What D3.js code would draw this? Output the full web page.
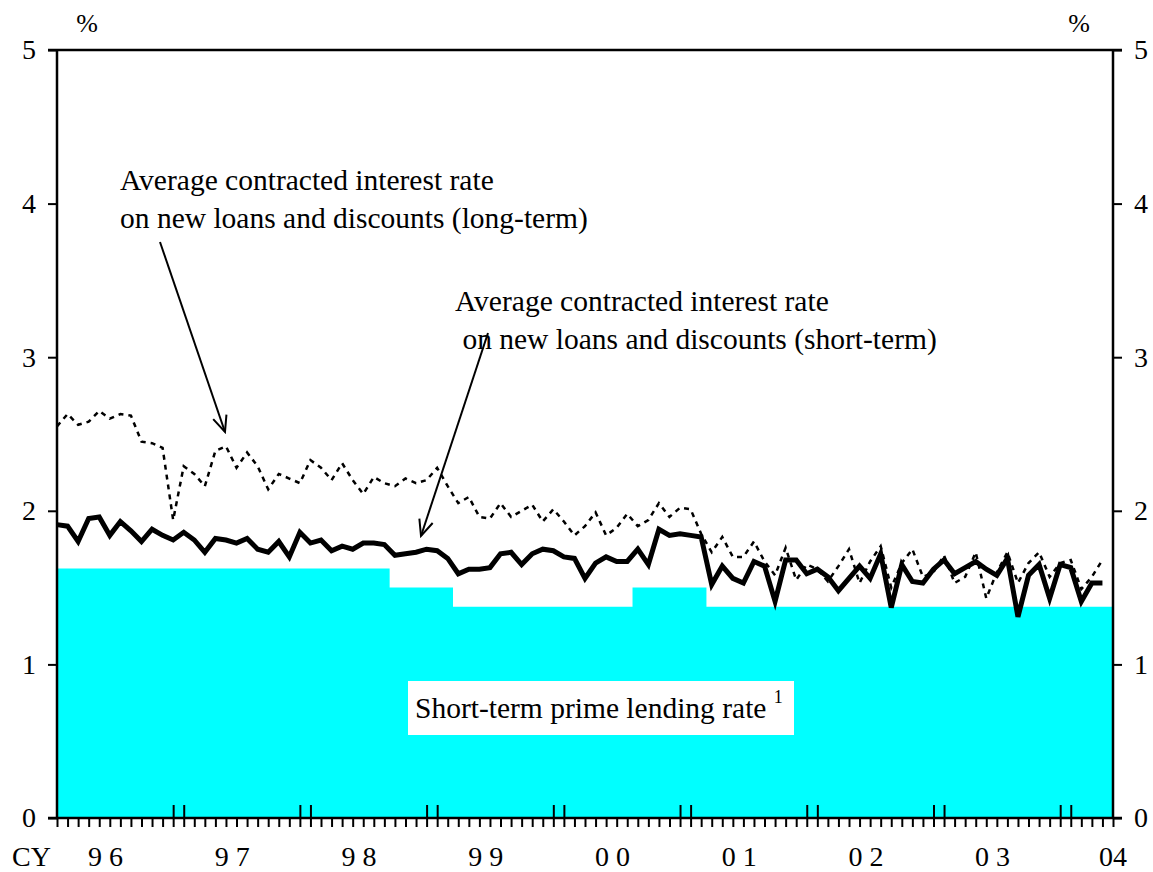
<!DOCTYPE html>
<html>
<head>
<meta charset="utf-8">
<script src="https://cdn.jsdelivr.net/npm/d3@7"></script>
<style>
    body { margin: 0; background: #fff; }
    svg text { font-family: "Liberation Serif", "Times New Roman", serif; fill: #000; }
</style>
</head>
<body>
<svg id="chart" width="1153" height="872"></svg>
<script>
// monthly, Jan 1996 .. Apr 2004 (100 months)
let startYear = 1996;

// average contracted interest rate on new loans, short-term (solid)
let shortTerm = [
    1.91, 1.90, 1.80, 1.95, 1.96, 1.84, 1.93, 1.87, 1.80, 1.88, 1.84, 1.81,
    1.86, 1.81, 1.73, 1.82, 1.81, 1.79, 1.82, 1.75, 1.73, 1.80, 1.70, 1.86,
    1.79, 1.81, 1.74, 1.77, 1.75, 1.79, 1.79, 1.78, 1.71, 1.72, 1.73, 1.75,
    1.74, 1.69, 1.59, 1.62, 1.62, 1.63, 1.72, 1.73, 1.65, 1.72, 1.75, 1.74,
    1.70, 1.69, 1.56, 1.66, 1.70, 1.67, 1.67, 1.75, 1.65, 1.88, 1.84, 1.85,
    1.84, 1.83, 1.52, 1.64, 1.56, 1.53, 1.67, 1.64, 1.41, 1.68, 1.68, 1.59,
    1.62, 1.57, 1.48, 1.56, 1.64, 1.56, 1.72, 1.37, 1.65, 1.54, 1.53, 1.62,
    1.68, 1.59, 1.63, 1.67, 1.62, 1.58, 1.69, 1.31, 1.58, 1.65, 1.43, 1.65,
    1.63, 1.41, 1.53, 1.53
];

// average contracted interest rate on new loans, long-term (dotted)
let longTerm = [
    2.55, 2.63, 2.56, 2.58, 2.65, 2.60, 2.63, 2.62, 2.45, 2.44, 2.41, 1.94,
    2.29, 2.24, 2.16, 2.39, 2.42, 2.28, 2.38, 2.29, 2.14, 2.24, 2.21, 2.18,
    2.33, 2.28, 2.20, 2.31, 2.20, 2.11, 2.22, 2.18, 2.16, 2.21, 2.18, 2.20,
    2.28, 2.16, 2.05, 2.09, 1.96, 1.95, 2.05, 1.96, 2.00, 2.04, 1.93, 2.01,
    1.93, 1.84, 1.90, 1.99, 1.84, 1.89, 1.98, 1.90, 1.94, 2.05, 1.96, 2.02,
    2.01, 1.85, 1.73, 1.83, 1.70, 1.70, 1.80, 1.67, 1.58, 1.76, 1.55, 1.65,
    1.62, 1.54, 1.64, 1.75, 1.53, 1.67, 1.77, 1.50, 1.66, 1.75, 1.57, 1.60,
    1.71, 1.53, 1.57, 1.73, 1.43, 1.60, 1.73, 1.53, 1.66, 1.73, 1.57, 1.66,
    1.68, 1.49, 1.57, 1.68
];

// short-term prime lending rate: month it took effect, and level
let primeFrom = ["1996-01", "1998-09", "1999-03", "2000-08", "2001-03"];
let primeRate = [1.625, 1.5, 1.375, 1.5, 1.375];

let yTicks = [0, 1, 2, 3, 4, 5];
let yearLabels = ["9 6", "9 7", "9 8", "9 9", "0 0", "0 1", "0 2", "0 3"];
let lastLabel = "04";
let nMonths = 100;

let svg = d3.select('#chart'),
    margin = {top: 50, right: 40, bottom: 54, left: 57},
    width = +svg.attr("width") - margin.left - margin.right,
    height = +svg.attr("height") - margin.top - margin.bottom;

let g = svg.append("g").attr("transform", "translate(" + margin.left + "," + margin.top + ")");

let x = d3.scaleLinear().domain([0, nMonths]).range([0, width]);
let y = d3.scaleLinear().domain([0, 5]).range([height, 0]);

function monthIndex(s) {
    let p = s.split("-");
    return (+p[0] - startYear) * 12 + (+p[1] - 1);
}

// prime rate as a step area, steps in the middle between months
let primePts = primeFrom.map((m, i) => ({m: i == 0 ? 0 : monthIndex(m) - 0.5, v: primeRate[i]}));
primePts.push({m: nMonths, v: primeRate[primeRate.length - 1]});

g.append("path")
    .datum(primePts)
    .attr("fill", "#00ffff")
    .attr("d", d3.area()
        .curve(d3.curveStepAfter)
        .x(d => x(d.m))
        .y0(y(0))
        .y1(d => y(d.v)));

// lines
let line = d3.line().x((d, i) => x(i)).y(d => y(d));

g.append("path")
    .datum(longTerm)
    .attr("fill", "none")
    .attr("stroke", "#000")
    .attr("stroke-width", 2.5)
    .attr("stroke-dasharray", "5,5")
    .attr("d", line);

g.append("path")
    .datum(shortTerm)
    .attr("fill", "none")
    .attr("stroke", "#000")
    .attr("stroke-width", 5)
    .attr("stroke-linejoin", "miter")
    .attr("d", line);

// axes
let leftAxis = g.append("g")
    .call(d3.axisLeft(y).tickValues(yTicks).tickSize(9).tickPadding(12).tickFormat(d3.format("d")));
let rightAxis = g.append("g")
    .attr("transform", "translate(" + width + ",0)")
    .call(d3.axisRight(y).tickValues(yTicks).tickSize(9).tickPadding(12).tickFormat(d3.format("d")));

let monthAxis = g.append("g")
    .attr("transform", "translate(0," + height + ")")
    .call(d3.axisBottom(x).tickValues(d3.range(0, nMonths + 1)).tickSize(9).tickFormat(""));

// tall double ticks around each year end
let yearEnds = [];
for (let k = 1; k <= 8; k++) yearEnds.push(12 * k - 1, 12 * k);
let yearAxis = g.append("g")
    .attr("transform", "translate(0," + height + ")")
    .call(d3.axisTop(x).tickValues(yearEnds).tickSize(13).tickFormat(""));

[leftAxis, rightAxis, monthAxis, yearAxis].forEach(a => {
    a.select(".domain").remove();
    a.selectAll("line").attr("stroke", "#000").attr("stroke-width", 2);
    a.selectAll("text").attr("font-size", 28);
});

// frame: top, bottom, left, right
g.append("line").attr("x1", -9).attr("x2", width + 9).attr("y1", 0).attr("y2", 0)
    .attr("stroke", "#000").attr("stroke-width", 2.5);
g.append("line").attr("x1", -9).attr("x2", width + 9).attr("y1", height).attr("y2", height)
    .attr("stroke", "#000").attr("stroke-width", 2.5);
g.append("line").attr("x1", 0).attr("x2", 0).attr("y1", 0).attr("y2", height)
    .attr("stroke", "#000").attr("stroke-width", 2.5);
g.append("line").attr("x1", width).attr("x2", width).attr("y1", 0).attr("y2", height)
    .attr("stroke", "#000").attr("stroke-width", 2.5);

// x labels
let xl = g.append("g").attr("font-size", 28);
xl.append("text").attr("x", -45).attr("y", height + 48).text("CY");
xl.selectAll(".yr").data(yearLabels).enter().append("text")
    .attr("class", "yr")
    .attr("x", (d, i) => x(4.6 + 12 * i))
    .attr("y", height + 48)
    .attr("text-anchor", "middle")
    .attr("xml:space", "preserve")
    .text(d => d);
xl.append("text").attr("x", x(nMonths)).attr("y", height + 48)
    .attr("text-anchor", "middle").text(lastLabel);

// % units
g.append("text").attr("x", 30).attr("y", -18).attr("font-size", 26).attr("text-anchor", "middle").text("%");
g.append("text").attr("x", width - 34).attr("y", -18).attr("font-size", 26).attr("text-anchor", "middle").text("%");

// prime rate label box
let lab = g.append("g");
lab.append("rect").attr("x", 351).attr("y", 631).attr("width", 386).attr("height", 54).attr("fill", "#fff");
let lt = lab.append("text").attr("x", 358).attr("y", 668).attr("font-size", 29.5);
lt.append("tspan").text("Short-term prime lending rate ");
lt.append("tspan").attr("font-size", 18).attr("dy", -15).text("1");

// annotations with arrows
svg.append("defs").append("marker")
    .attr("id", "arrow")
    .attr("viewBox", "0 0 20 20")
    .attr("refX", 18).attr("refY", 10)
    .attr("markerWidth", 20).attr("markerHeight", 20)
    .attr("markerUnits", "userSpaceOnUse")
    .attr("orient", "auto")
    .append("path")
    .attr("d", "M2,3 L18,10 L2,17")
    .attr("fill", "none")
    .attr("stroke", "#000")
    .attr("stroke-width", 2);

let notes = [
    {lines: ["Average contracted interest rate", "on new loans and discounts (long-term)"], tx: 63, ty: 140, from: [103, 192], to: [168, 382]},
    {lines: ["Average contracted interest rate", " on new loans and discounts (short-term)"], tx: 398, ty: 261, from: [431, 283], to: [364, 486]}
];

notes.forEach(n => {
    let t = g.append("text").attr("font-size", 29.5).attr("xml:space", "preserve");
    n.lines.forEach((s, i) => {
        t.append("tspan").attr("x", n.tx).attr("y", n.ty + i * 38).text(s);
    });
    g.append("line")
        .attr("x1", n.from[0]).attr("y1", n.from[1])
        .attr("x2", n.to[0]).attr("y2", n.to[1])
        .attr("stroke", "#000").attr("stroke-width", 2)
        .attr("marker-end", "url(#arrow)");
});
</script>
</body>
</html>
